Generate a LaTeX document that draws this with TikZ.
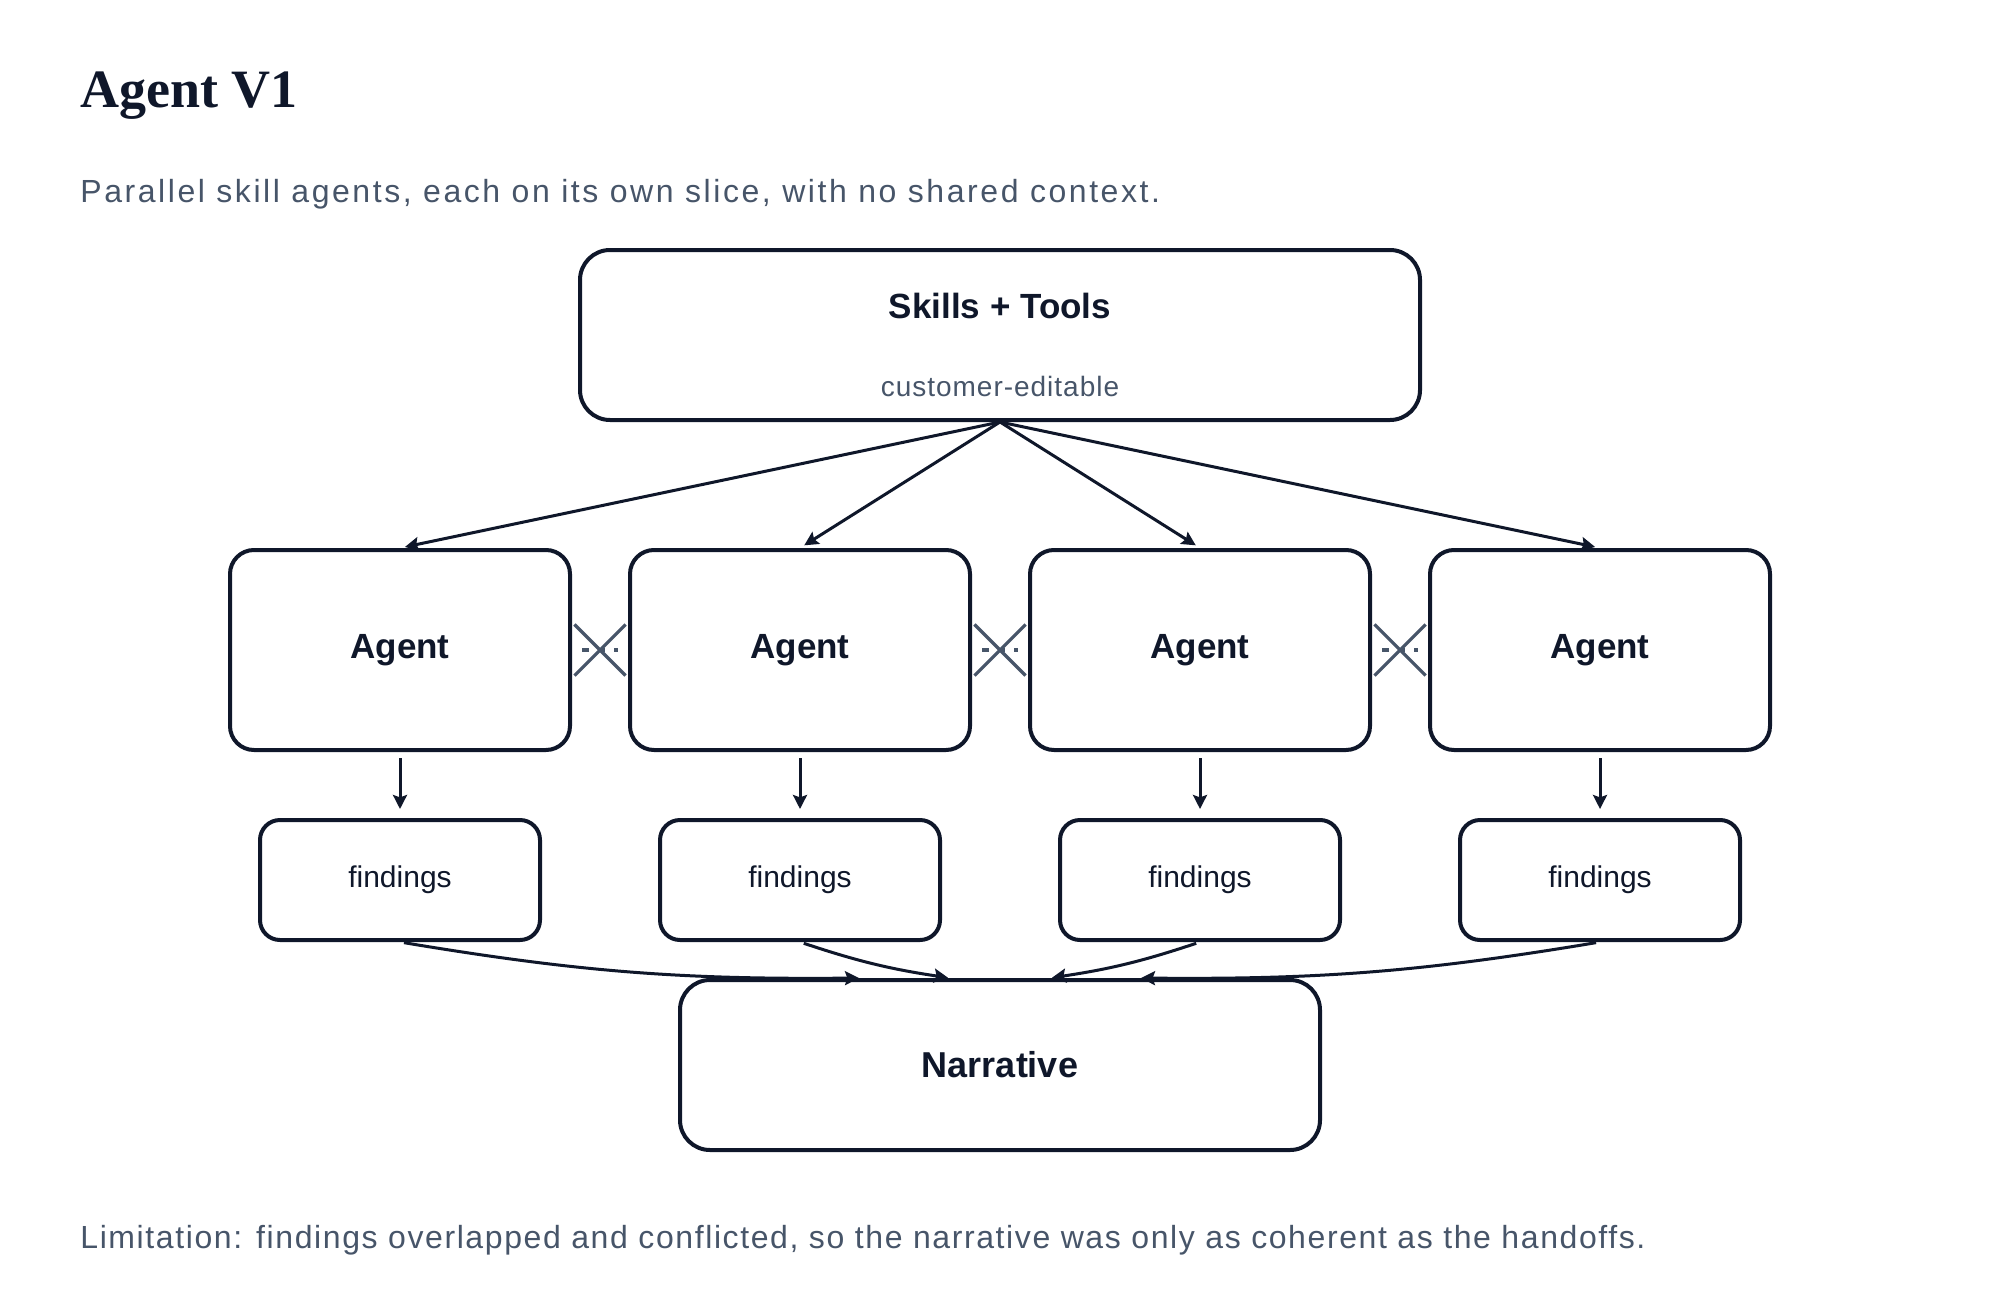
\documentclass[tikz,border=0pt]{standalone}
\usepackage{fontspec}
\setmainfont{Liberation Sans}
\newfontfamily\headfont{Liberation Serif}
\newfontfamily\notefont[LetterSpace=5]{Liberation Sans}
\newfontfamily\leadfont[LetterSpace=8]{Liberation Sans}
\newfontfamily\tagfont[LetterSpace=3.5]{Liberation Sans}
\usetikzlibrary{positioning,shapes.misc,arrows.meta,calc}
\definecolor{ink}{HTML}{0F172A}
\definecolor{muted}{HTML}{475569}

\begin{document}
\begin{tikzpicture}[x=0.5pt,y=-0.5pt,>={Stealth[length=7pt,width=7pt,inset=1.2pt]},
              box/.style={draw=ink,line width=2pt,rounded corners=12pt,text=ink},
              agent node/.style={box,minimum width=170pt,minimum height=100pt,
                font=\fontsize{17.5}{20}\selectfont\bfseries},
              find node/.style={box,rounded corners=10pt,minimum width=140pt,minimum height=60pt,
                font=\fontsize{15}{18}\selectfont},
              plain text/.style={inner sep=0pt,anchor=base west,text=muted,
                font=\notefont\fontsize{16}{19}\selectfont},
              flow/.style={->,draw=ink,line width=1.5pt},
              cut/.style={draw=muted,line width=1.6pt}]

            \useasboundingbox (0,0) rectangle (2000,1300);

            \node[inner sep=0pt,anchor=base west,text=ink,
              font=\headfont\bfseries\fontsize{27}{32}\selectfont] (title) at (80,108) {Agent V1};
            \node[plain text,font=\leadfont\fontsize{16}{19}\selectfont] (sub) at (80,203)
              {Parallel skill agents, each on its own slice, with no shared context.};

            \node[box,rounded corners=15pt,minimum width=420pt,minimum height=85pt] (skills) at (1000,335) {};
            \node[inner sep=0pt,anchor=base,text=ink,font=\fontsize{17.5}{20}\selectfont\bfseries]
              (skillsname) at (1000,318) {Skills + Tools};
            \node[inner sep=0pt,anchor=base,text=muted,font=\tagfont\fontsize{14}{16}\selectfont]
              (skillsnote) at (1000,396) {customer-editable};

            \node[agent node] (A1) at (400,650) {Agent};
            \node[agent node] (A2) at (800,650) {Agent};
            \node[agent node] (A3) at (1200,650) {Agent};
            \node[agent node] (A4) at (1600,650) {Agent};

            \node[find node] (F1) at (400,880) {findings};
            \node[find node] (F2) at (800,880) {findings};
            \node[find node] (F3) at (1200,880) {findings};
            \node[find node] (F4) at (1600,880) {findings};

            \node[box,rounded corners=15pt,minimum width=320pt,minimum height=85pt,
              font=\fontsize{18}{21}\selectfont\bfseries] (N) at (1000,1065) {Narrative};

            \node[plain text] (limit) at (80,1248)
              {Limitation: findings overlapped and conflicted, so the narrative was only as coherent as the handoffs.};

            \path[every edge/.style={flow,shorten >=2.5pt}]
            (skills.south) edge (A1.north)
            (skills.south) edge (A2.north)
            (skills.south) edge (A3.north)
            (skills.south) edge (A4.north);

            \path[every edge/.style={flow,shorten <=3pt,shorten >=4.5pt}]
            (A1.south) edge (F1.north)
            (A2.south) edge (F2.north)
            (A3.south) edge (F3.north)
            (A4.south) edge (F4.north);

            \path[every edge/.style={flow,shorten <=2pt,shorten >=1pt}]
            (F1.south) edge[bend right=5] ([xshift=-69.5pt]N.north)
            (F2.south) edge[bend right=5] ([xshift=-25pt]N.north)
            (F3.south) edge[bend left=5] ([xshift=25pt]N.north)
            (F4.south) edge[bend left=5] ([xshift=69.5pt]N.north);

            \path[every edge/.style={cut,dash pattern=on 3.5pt off 4.5pt,shorten <=5pt,shorten >=5pt}]
            (A1.east) edge (A2.west)
            (A2.east) edge (A3.west)
            (A3.east) edge (A4.west);

            \node[cut,cross out,minimum size=24pt,inner sep=0pt] (X12) at ($(A1.east)!0.5!(A2.west)$) {};
            \node[cut,cross out,minimum size=24pt,inner sep=0pt] (X23) at ($(A2.east)!0.5!(A3.west)$) {};
            \node[cut,cross out,minimum size=24pt,inner sep=0pt] (X34) at ($(A3.east)!0.5!(A4.west)$) {};
          \end{tikzpicture}
\end{document}
